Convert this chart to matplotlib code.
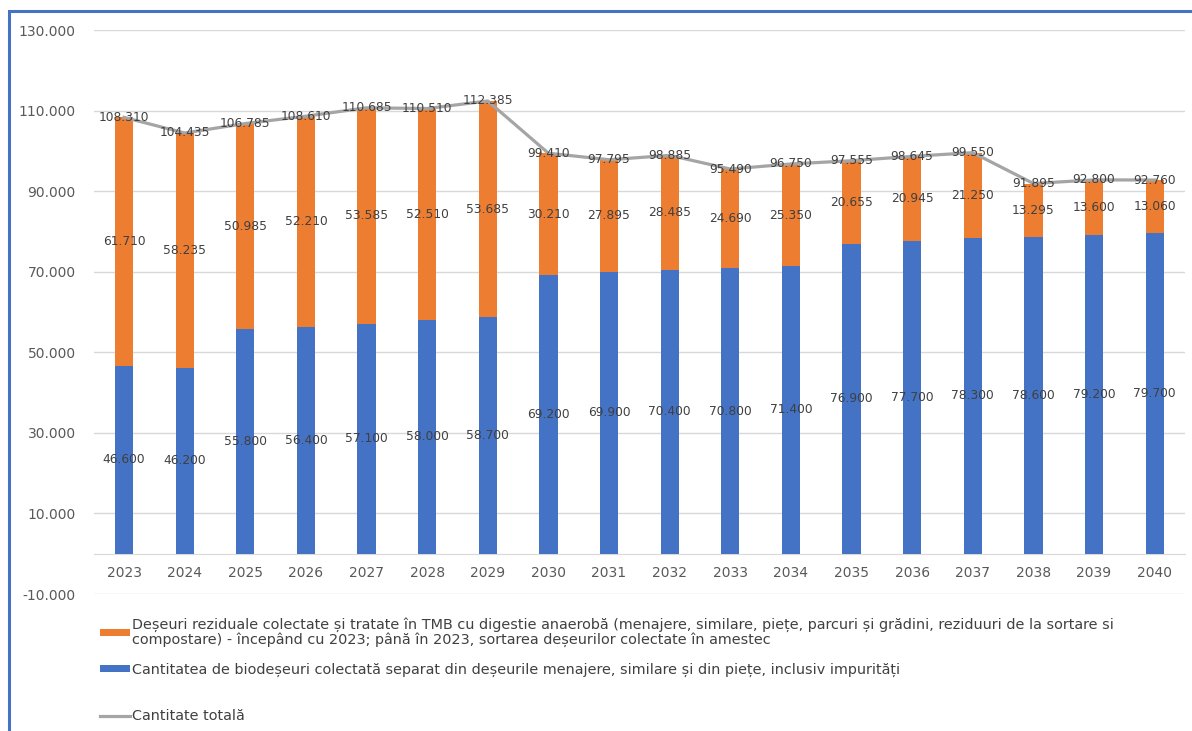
import matplotlib
matplotlib.use("Agg")
import matplotlib.pyplot as plt
from matplotlib.patches import Rectangle, Patch
from matplotlib.lines import Line2D
from matplotlib.ticker import FuncFormatter, FixedLocator
import numpy as np

plt.rcParams['font.family'] = ['DejaVu Sans']

years = ["2023", "2024", "2025", "2026", "2027", "2028", "2029", "2030", "2031",
         "2032", "2033", "2034", "2035", "2036", "2037", "2038", "2039", "2040"]
biodeseuri = [46600, 46200, 55800, 56400, 57100, 58000, 58700, 69200, 69900,
              70400, 70800, 71400, 76900, 77700, 78300, 78600, 79200, 79700]
reziduale = [61710, 58235, 50985, 52210, 53585, 52510, 53685, 30210, 27895,
             28485, 24690, 25350, 20655, 20945, 21250, 13295, 13600, 13060]
total = [108310, 104435, 106785, 108610, 110685, 110510, 112385, 99410, 97795,
         98885, 95490, 96750, 97555, 98645, 99550, 91895, 92800, 92760]
y_ticks = [-10000, 10000, 30000, 50000, 70000, 90000, 110000, 130000]

lbl_orange = ("Deșeuri reziduale colectate și tratate în TMB cu digestie anaerobă (menajere, similare, piețe, parcuri și grădini, reziduuri de la sortare si\n"
              "compostare) - începând cu 2023; până în 2023, sortarea deșeurilor colectate în amestec")
lbl_blue = "Cantitatea de biodeșeuri colectată separat din deșeurile menajere, similare și din piețe, inclusiv impurități"
lbl_line = "Cantitate totală"

def fmt(v):
    return f"{int(v):,}".replace(",", ".")

W, H = 1192, 731
fig = plt.figure(figsize=(W / 100, H / 100), dpi=100)
fig.patch.set_facecolor("white")

# blue frame (left and top edges visible)
fig.patches.append(Rectangle((9 / W, -0.2), 1.3, 1.2 - 11 / H,
                             transform=fig.transFigure, fill=False,
                             edgecolor="#4472C4", linewidth=2.2))

ax = fig.add_axes([93.7 / W, (H - 594) / H, (1185 - 93.7) / W, (594 - 30) / H])
x = np.arange(len(years))
c_blue = "#4472C4"
c_orange = "#ED7D31"
c_line = "#A5A5A5"

ax.bar(x, biodeseuri, width=0.3, color=c_blue, zorder=2)
ax.bar(x, reziduale, width=0.3, bottom=biodeseuri, color=c_orange, zorder=2)
ax.plot(x, total, color=c_line, linewidth=2.3, zorder=3)

tc = "#404040"
for i in range(len(years)):
    ax.text(x[i], biodeseuri[i] / 2, fmt(biodeseuri[i]), ha="center", va="center",
            fontsize=8.8, color=tc, zorder=4)
    ax.text(x[i], biodeseuri[i] + reziduale[i] / 2, fmt(reziduale[i]), ha="center",
            va="center", fontsize=8.8, color=tc, zorder=4)
    ax.text(x[i], total[i], fmt(total[i]), ha="center", va="center",
            fontsize=8.8, color=tc, zorder=4)

ax.set_xlim(-0.5, len(years) - 0.5)
ax.set_ylim(-10000, 130000)
ax.yaxis.set_major_locator(FixedLocator(y_ticks))
ax.yaxis.set_major_formatter(FuncFormatter(lambda v, p: fmt(v)))
ax.grid(axis="y", color="#D9D9D9", linewidth=1, zorder=0)
ax.set_xticks(x)
ax.set_xticklabels(years)
for s in ["top", "right", "left"]:
    ax.spines[s].set_visible(False)
ax.spines["bottom"].set_position(("data", 0))
ax.spines["bottom"].set_color("#D9D9D9")
ax.spines["bottom"].set_zorder(1)
ax.tick_params(axis="x", length=0, pad=9, labelsize=10, labelcolor="#595959")
ax.tick_params(axis="y", length=0, pad=13, labelsize=10, labelcolor="#595959")

entries = [
    (Patch(facecolor=c_orange, edgecolor="none"), lbl_orange, 632),
    (Patch(facecolor=c_blue, edgecolor="none"), lbl_blue, 670),
    (Line2D([0], [0], color=c_line, linewidth=2.3), lbl_line, 716),
]
for h, lbl, yc in entries:
    lg = fig.legend([h], [lbl], loc="center left",
                    bbox_to_anchor=(100 / W, 1 - yc / H),
                    frameon=False, fontsize=10.35, labelcolor="#404040",
                    handlelength=2.1, handleheight=0.4, handletextpad=0.12,
                    borderaxespad=0, borderpad=0)
    for t in lg.get_texts():
        t.set_linespacing(1.02)

fig.savefig("out.png", dpi=100, facecolor="white")
